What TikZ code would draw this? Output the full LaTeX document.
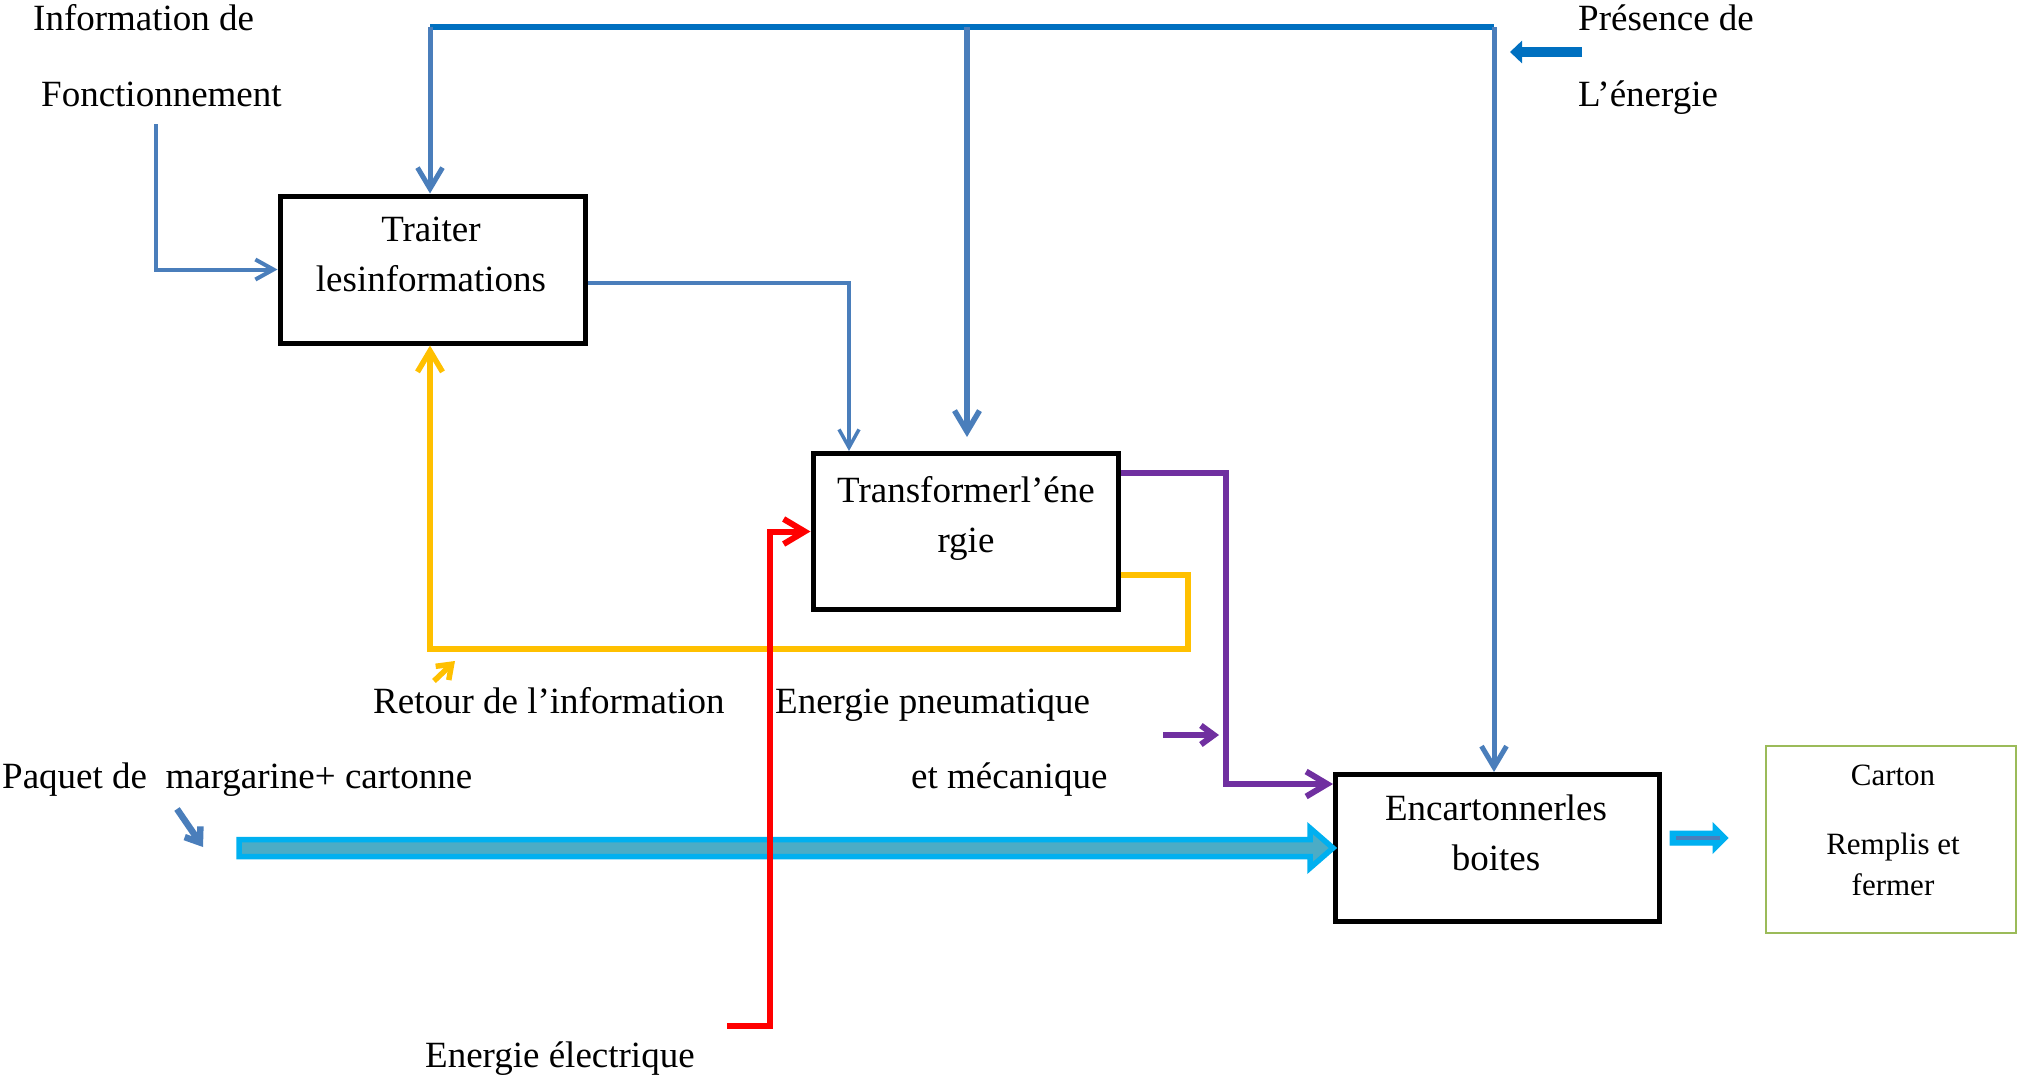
\documentclass[tikz,border=0pt]{standalone}
\usepackage{fontspec}
\setmainfont{Liberation Serif}
\usetikzlibrary{arrows.meta,calc}

\definecolor{busblue}{HTML}{0070C0}
\definecolor{linkblue}{HTML}{4A7EBB}
\definecolor{fbyellow}{HTML}{FFC000}
\definecolor{pneupurple}{HTML}{7030A0}
\definecolor{elecred}{HTML}{FF0000}
\definecolor{flowcyan}{HTML}{00B0F0}
\definecolor{flowteal}{HTML}{4BACC6}
\definecolor{boxgreen}{HTML}{9BBB59}

\begin{document}
\begin{tikzpicture}[x=1pt,y=-1pt,
  txt/.style={inner sep=0pt,font=\fontsize{37}{50}\selectfont},
  boxtxt/.style={txt,align=center},
  smalltxt/.style={inner sep=0pt,align=center,font=\fontsize{31}{41}\selectfont},
  fbox/.style={draw=black,line width=5pt,inner sep=0pt,fill=white},
  vtip/.style={-{Straight Barb[length=21pt,width=25pt]}},
  vtipthin/.style={-{Straight Barb[length=18pt,width=20pt]}},
  vtipsmall/.style={-{Straight Barb[length=13pt,width=19pt]}},
  blocktip/.style={-{Triangle[length=12pt,width=22pt]}},
  line join=miter
]
\path[use as bounding box] (0,0) rectangle (2019,1079);

% function blocks
\node[fbox,minimum width=305pt,minimum height=147pt] (traiter) at (432.5,269.5) {};
\node[boxtxt] (traiterT) at (431,254) {Traiter\\lesinformations};
\node[fbox,minimum width=305pt,minimum height=156pt] (transformer) at (965.5,531.5) {};
\node[boxtxt] (transformerT) at (966,518.5) {Transformerl’éne\\rgie};
\node[fbox,minimum width=324pt,minimum height=147pt] (enc) at (1497.5,848) {};
\node[boxtxt] (encT) at (1496,832.5) {Encartonnerles\\boites};
\node[draw=boxgreen,line width=1.8pt,minimum width=250pt,minimum height=187pt,inner sep=0pt] (carton) at (1891,839.5) {};
\node[smalltxt] (cartonT) at (1893,830) {Carton\\[28pt]Remplis et\\fermer};

% free labels
\node[txt,anchor=base west] (infoA) at (33,30) {Information de};
\node[txt,anchor=base west] (infoB) at (41,106) {Fonctionnement};
\node[txt,anchor=base west] (presA) at (1578,30) {Présence de};
\node[txt,anchor=base west] (presB) at (1578,106) {L’énergie};
\node[txt,anchor=base west] (retour) at (373,713) {Retour de l’information};
\node[txt,anchor=base west] (pneu) at (775,713) {Energie pneumatique};
\node[txt,anchor=base west] (meca) at (911,788) {et mécanique};
\node[txt,anchor=base west] (paquet) at (2,788) {Paquet de\ \ margarine+ cartonne};
\node[txt,anchor=base west] (elec) at (425,1067) {Energie électrique};

% energy supply bus
\coordinate (busL) at (430,27);
\coordinate (busM) at (967,27);
\coordinate (busR) at (1494,27);
\draw[busblue,line width=5.5pt] (busL) -- (busR);
\draw[linkblue,line width=5pt,vtip] (busL) -- (busL |- traiter.north);
\draw[linkblue,line width=5.5pt,vtip,shorten >=14pt] (busM) -- (busM |- transformer.north);
\draw[linkblue,line width=5pt,vtip] (busR) -- (busR |- enc.north);

% energy presence marker
\coordinate (presS) at (1582,52);
\coordinate (presE) at (1510,52);
\draw[busblue,line width=10pt,blocktip] (presS) -- (presE);

% operating information
\coordinate (foncS) at (156,124);
\draw[linkblue,line width=4pt,vtipthin] (foncS) |- (traiter.west);

% orders to the energy converter
\coordinate (ordX) at (849,283);
\draw[linkblue,line width=3.5pt,vtipthin] (traiter.east |- ordX) -- (ordX) -- (ordX |- transformer.north);

% information feedback
\coordinate (fbR) at (1188,575);
\coordinate (fbB) at (1188,649);
\draw[fbyellow,line width=5.5pt,vtip] (transformer.east |- fbR) -- (fbR) -- (fbB) -| (busL |- traiter.south);
\coordinate (fbA) at (434,681);
\coordinate (fbC) at (455,661);
\draw[fbyellow,line width=5.5pt,vtipsmall] (fbA) -- (fbC);

% pneumatic and mechanical energy
\coordinate (pnR) at (1226,473);
\coordinate (pnB) at (1226,784);
\draw[pneupurple,line width=6pt,vtip] (transformer.east |- pnR) -- (pnR) -- (pnB) -- (enc.west |- pnB);
\coordinate (pnA) at (1163,735);
\coordinate (pnC) at (1219,735);
\draw[pneupurple,line width=6pt,vtipsmall] (pnA) -- (pnC);

% product flow
\coordinate (pqA) at (177,809);
\coordinate (pqC) at (203,847);
\draw[linkblue,line width=6.5pt,vtipsmall] (pqA) -- (pqC);
\draw[flowcyan,line width=5.5pt,fill=flowteal]
  ($(enc.west)+(-1094,-8.5)$) -- ($(enc.west)+(-23,-8.5)$) -- ($(enc.west)+(-23,-20)$)
  -- (enc.west) -- ($(enc.west)+(-23,20)$) -- ($(enc.west)+(-23,8.5)$)
  -- ($(enc.west)+(-1094,8.5)$) -- cycle;

% output to the filled carton
\coordinate (outS) at (1670,838);
\draw[flowcyan,line width=1pt,fill=flowcyan]
  ($(outS)+(0,-7)$) -- ($(outS)+(43,-7)$) -- ($(outS)+(43,-15)$) -- ($(outS)+(58,0)$)
  -- ($(outS)+(43,15)$) -- ($(outS)+(43,7)$) -- ($(outS)+(0,7)$) -- cycle;
\draw[linkblue,line width=4pt] ($(outS)+(6,0)$) -- ($(outS)+(50,0)$);

% electrical energy
\coordinate (elS) at (727,1026);
\coordinate (elC) at (770,1026);
\draw[elecred,line width=6pt,vtip] (elS) -- (elC) |- (transformer.west);
\end{tikzpicture}
\end{document}
